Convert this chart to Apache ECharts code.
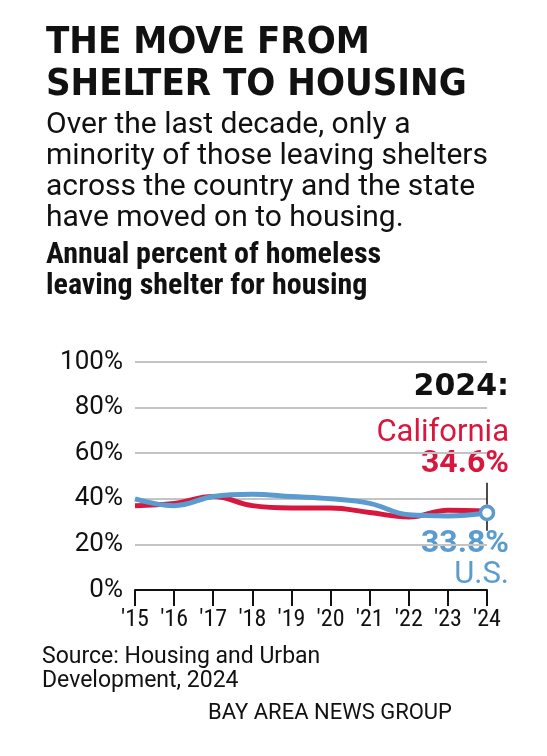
<!DOCTYPE html>
<html><head><meta charset="utf-8">
<script src="https://cdn.jsdelivr.net/npm/echarts@6/dist/echarts.min.js"></script>
<style>html,body{margin:0;background:#fff}#c{width:547px;height:756px}</style>
</head><body><div id="c"></div>
<script>
// 数据
const years = ["'15","'16","'17","'18","'19","'20","'21","'22","'23","'24"];
const california = [37, 38, 41, 37, 36, 36, 34, 32, 35, 34.6];
const us = [40, 37, 41, 42, 41, 40, 38, 33, 32.5, 33.8];
const yTicks = [0, 20, 40, 60, 80, 100];

const RED = '#d8173f', BLUE = '#5a9bd0';
const chart = echarts.init(document.getElementById('c'));
const txt = (left, top, text, style) => ({ type: 'text', left, top, style: Object.assign({ text, fill: '#111', font: '28px Roboto' }, style) });

chart.setOption({
  animation: false,
  graphic: [
    txt(46, 22, 'THE MOVE FROM\nSHELTER TO HOUSING', { font: '900 38px "DejaVu Sans Condensed"', lineHeight: 42 }),
    txt(46, 110, 'Over the last decade, only a\nminority of those leaving shelters\nacross the country and the state\nhave moved on to housing.', { font: '30px Roboto', lineHeight: 31 }),
    txt(46, 240, 'Annual percent of homeless\nleaving shelter for housing', { font: 'bold 30px "Roboto Condensed", Roboto', lineHeight: 31 }),
    txt(42, 645, 'Source: Housing and Urban\nDevelopment, 2024', { font: '23px Roboto', lineHeight: 24 }),
    txt(208, 702, 'BAY AREA NEWS GROUP', { font: '22px Roboto' }),
    { type: 'text', right: 38, top: 372, style: { text: '2024:', fill: '#111', font: '900 30px "DejaVu Sans"' } },
    { type: 'text', right: 38, top: 418, style: { text: 'California', fill: RED, font: '31px Roboto' } },
    { type: 'text', right: 38, top: 448, style: { text: '34.6%', fill: RED, font: 'bold 32px Roboto' } },
    { type: 'text', right: 38, top: 528, style: { text: '33.8%', fill: BLUE, font: 'bold 32px Roboto' } },
    { type: 'text', right: 38, top: 560, style: { text: 'U.S.', fill: BLUE, font: '31px Roboto' } }
  ],
  grid: { left: 135, right: 60, top: 362, bottom: 166 },
  xAxis: {
    type: 'category', data: years, boundaryGap: false,
    axisLine: { lineStyle: { color: '#111', width: 2 } },
    axisTick: { show: true, length: 16, interval: 0, lineStyle: { color: '#111', width: 2 } },
    axisLabel: { color: '#111', fontSize: 24, fontFamily: 'Roboto Condensed, Roboto', margin: 18, interval: 0 }
  },
  yAxis: {
    type: 'value', min: 0, max: 100, interval: 20,
    axisLabel: { color: '#111', fontSize: 26, fontFamily: 'Roboto', margin: 12, formatter: v => yTicks.includes(v) ? v + '%' : '' },
    splitLine: { lineStyle: { color: '#c4c4c4', width: 2 } }
  },
  series: [
    { type: 'line', data: california, smooth: 0.4, symbol: 'none', lineStyle: { color: RED, width: 5 },
      markPoint: { symbol: 'circle', symbolSize: 13, itemStyle: { color: RED }, label: { show: false }, data: [{ coord: ["'24", 34.6] }] },
      markLine: { symbol: 'none', silent: true, label: { show: false }, lineStyle: { color: '#111', width: 1.5, type: 'solid' },
        data: [[{ coord: ["'24", 37.5] }, { coord: ["'24", 47] }], [{ coord: ["'24", 30.5] }, { coord: ["'24", 26] }]] } },
    { type: 'line', data: us, smooth: 0.4, symbol: 'none', lineStyle: { color: BLUE, width: 5 },
      markPoint: { symbol: 'circle', symbolSize: 13, itemStyle: { color: '#fff', borderColor: BLUE, borderWidth: 3.5 }, label: { show: false }, data: [{ coord: ["'24", 33.8] }] } }
  ]
});
</script></body></html>
